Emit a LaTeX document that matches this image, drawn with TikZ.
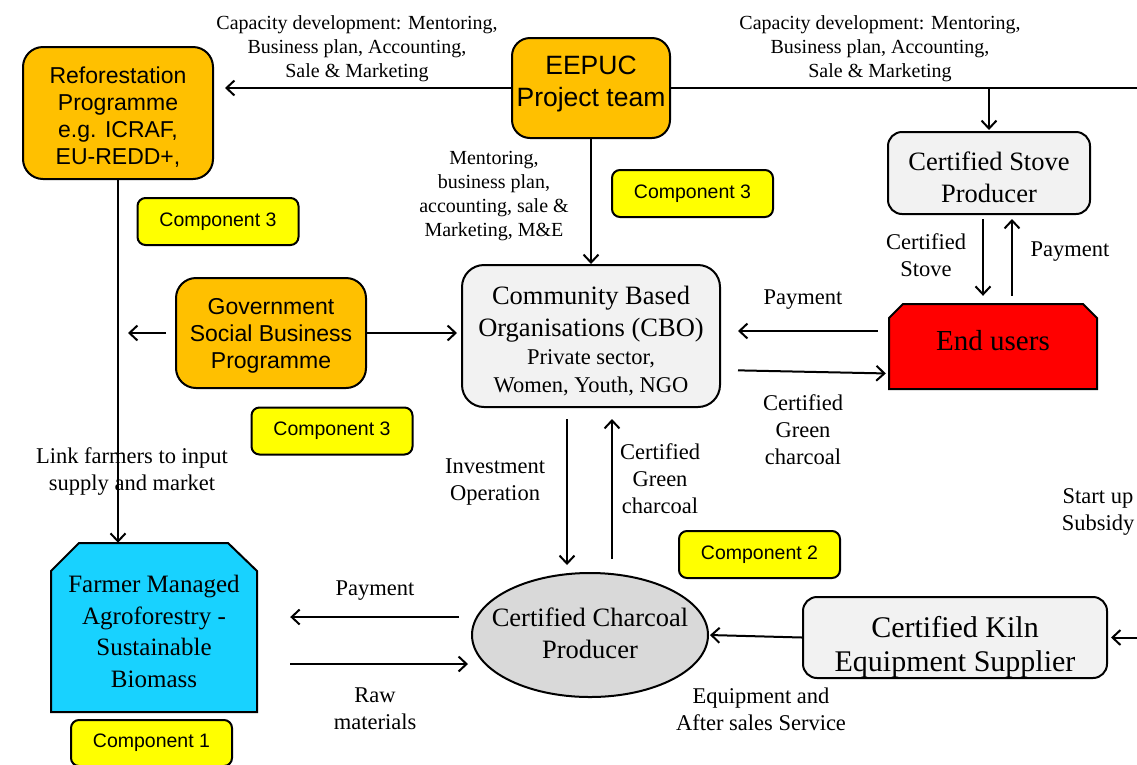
\documentclass[tikz,border=0pt]{standalone}
\usepackage{fontspec}
\setmainfont{Liberation Serif}
\newfontfamily\arial{Liberation Sans}
\usetikzlibrary{arrows.meta,shapes.geometric}
\definecolor{orng}{HTML}{FFC000}
\definecolor{ylw}{HTML}{FFFF00}
\definecolor{lgrey}{HTML}{F2F2F2}
\definecolor{egrey}{HTML}{D9D9D9}
\definecolor{cyanc}{RGB}{24,210,255}
\definecolor{redc}{HTML}{FF0000}
\tikzset{
  orangebox/.style={draw, line width=2pt, rounded corners=20pt, fill=orng, inner sep=0pt},
  greybox/.style={draw, line width=2pt, rounded corners=14pt, fill=lgrey, inner sep=0pt},
  txt/.style={align=center, inner sep=0pt},
  sanstxt/.style={txt, font=\arial\fontsize{23}{27}\selectfont},
  comp/.style={draw, line width=2pt, fill=ylw, rounded corners=8pt, minimum width=161pt,
    minimum height=47pt, font=\arial\fontsize{19.5}{23}\selectfont, inner sep=0pt},
  lab/.style={align=center, inner sep=0pt, font=\fontsize{22.5}{27}\selectfont},
  caplab/.style={align=center, inner sep=0pt, font=\fontsize{20}{24}\selectfont},
  conn/.style={line width=2pt, ->},
  plain/.style={line width=2pt}
}
\begin{document}
\begin{tikzpicture}[x=1pt,y=-1pt, >={Straight Barb[length=8pt,width=15pt]}]
\useasboundingbox (0,0) rectangle (1137,764);

% shapes with chamfers
\draw[line width=2pt, fill=cyanc] (51,712) -- (51,571) -- (79,543) -- (228,543) -- (257,571) -- (257,712) -- cycle;
\draw[line width=2pt, fill=redc] (889,389) -- (889,318) -- (903,304) -- (1083,304) -- (1097,318) -- (1097,389) -- cycle;

% shape nodes
\node[orangebox, minimum width=190pt, minimum height=132pt] (refo) at (118,113) {};
\node[orangebox, rounded corners=18pt, minimum width=158pt, minimum height=100pt] (eepuc) at (591,88) {};
\node[greybox, minimum width=202pt, minimum height=82pt] (stove) at (989,173) {};
\node[minimum width=208pt, minimum height=85pt, inner sep=0pt] (eu) at (993,346.5) {};
\node[greybox, rounded corners=22pt, minimum width=258pt, minimum height=142pt] (cbo) at (591,336) {};
\node[orangebox, minimum width=190pt, minimum height=110pt] (gov) at (271,333) {};
\node[minimum width=206pt, minimum height=169pt, inner sep=0pt] (farm) at (154,627.5) {};
\node[draw, line width=2pt, ellipse, fill=egrey, minimum width=236pt, minimum height=124pt, inner sep=0pt] (char) at (590,635) {};
\node[greybox, minimum width=304pt, minimum height=81pt] (kiln) at (955,637.5) {};

% node texts
\node[sanstxt] (refot) at (118,117) {Reforestation\\Programme\\e.g. ICRAF,\\EU-REDD+,};
\node[txt, font=\arial\fontsize{26.5}{32}\selectfont] (eepuct) at (591,84) {EEPUC\\Project team};
\node[txt, font=\fontsize{26.5}{32}\selectfont] (stovet) at (989,177) {Certified Stove\\Producer};
\node[txt, font=\fontsize{29}{34}\selectfont] (eut) at (993,341) {End users};
\node[txt, font=\fontsize{26.5}{32}\selectfont] (cbot1) at (591,314) {Community Based\\Organisations (CBO)};
\node[txt, font=\fontsize{22.5}{28}\selectfont] (cbot2) at (591,373) {Private sector,\\Women, Youth, NGO};
\node[sanstxt] (govt) at (271,336) {Government\\Social Business\\Programme};
\node[txt, font=\fontsize{25}{31.5}\selectfont] (farmt) at (154,631.5) {Farmer Managed\\Agroforestry -\\Sustainable\\Biomass};
\node[txt, font=\fontsize{26.5}{32}\selectfont] (chart) at (590,633.5) {Certified Charcoal\\Producer};
\node[txt, font=\fontsize{30}{34}\selectfont] (kilnt) at (955,647) {Certified Kiln\\Equipment Supplier};

\node[comp] (c3a) at (692.5,193.5) {Component 3};
\node[comp] (c3b) at (218,221.5) {Component 3};
\node[comp] (c3c) at (332,431) {Component 3};
\node[comp] (c2) at (759.5,554.5) {Component 2};
\node[comp, minimum height=46pt] (c1) at (151.5,743) {Component 1};

% edge coordinates
\coordinate (redge) at (1137,88);
\coordinate (kedge) at (1137,637.5);

% connectors
\draw[conn, shorten >=11pt] (eepuc.west) -- (eepuc.west -| refo.east);
\draw[plain] (eepuc.east) -- (redge);
\draw[conn, shorten >=1pt] (stove.north |- eepuc.east) -- (stove.north);
\draw[conn] (eepuc.south) -- (cbo.north);
\draw[conn, shorten <=4pt, shorten >=8pt] ([xshift=-6pt]stove.south) -- ([xshift=-10pt]eu.north);
\draw[conn, shorten <=8pt, shorten >=4pt] ([xshift=19pt]eu.north) -- ([xshift=23pt]stove.south);
\draw[conn, shorten <=11pt, shorten >=17pt] ([yshift=15.5pt]eu.west) -- ([yshift=15.5pt]eu.west -| cbo.east);
\draw[conn, shorten <=17pt, shorten >=3pt] ([yshift=-34pt]cbo.east) -- ([yshift=-27pt]eu.west);
\draw[conn, shorten >=4pt] (gov.east) -- (gov.east -| cbo.west);
\draw[conn, shorten <=9pt, shorten >=10pt] (gov.west) -- (gov.west -| refo.south);
\draw[conn] (refo.south) -- (refo.south |- farm.north);
\draw[conn, shorten <=11pt, shorten >=7pt] ([xshift=-24pt]cbo.south) -- ([xshift=-24pt]cbo.south |- char.north);
\draw[conn, shorten <=13pt, shorten >=11pt] ([xshift=21pt]cbo.south |- char.north) -- ([xshift=21pt]cbo.south);
\draw[conn, shorten <=12pt, shorten >=33pt] ([yshift=18pt]char.west) -- ([yshift=18pt]char.west -| farm.east);
\draw[conn, shorten <=33pt, shorten >=3pt] ([yshift=-29pt]char.west -| farm.east) -- ([yshift=-29pt]char.west);
\draw[conn, shorten >=1pt] (kiln.west) -- (char.east);
\draw[conn, shorten >=3pt] (kedge) -- (kiln.east);

% labels
\node[caplab] (l1) at (357,49) {Capacity development: Mentoring,\\Business plan, Accounting,\\Sale \& Marketing};
\node[caplab] (l2) at (880,49) {Capacity development: Mentoring,\\Business plan, Accounting,\\Sale \& Marketing};
\node[caplab] (l3) at (494,196) {Mentoring,\\business plan,\\accounting, sale \&\\Marketing, M\&E};
\node[lab] (l4) at (926,255) {Certified\\Stove};
\node[lab] (l5) at (1070,252) {Payment};
\node[lab] (l6) at (803,300) {Payment};
\node[lab] (l7) at (803,430) {Certified\\Green\\charcoal};
\node[lab] (l8) at (132,471.5) {Link farmers to input\\supply and market};
\node[lab] (l9) at (495,482) {Investment\\Operation};
\node[lab] (l10) at (660,479) {Certified\\Green\\charcoal};
\node[lab] (l11) at (375,591) {Payment};
\node[lab] (l12) at (375,708.5) {Raw\\materials};
\node[lab] (l13) at (761,709) {Equipment and\\After sales Service};
\node[lab] (l14) at (1098,512) {Start up\\Subsidy};
\end{tikzpicture}
\end{document}
